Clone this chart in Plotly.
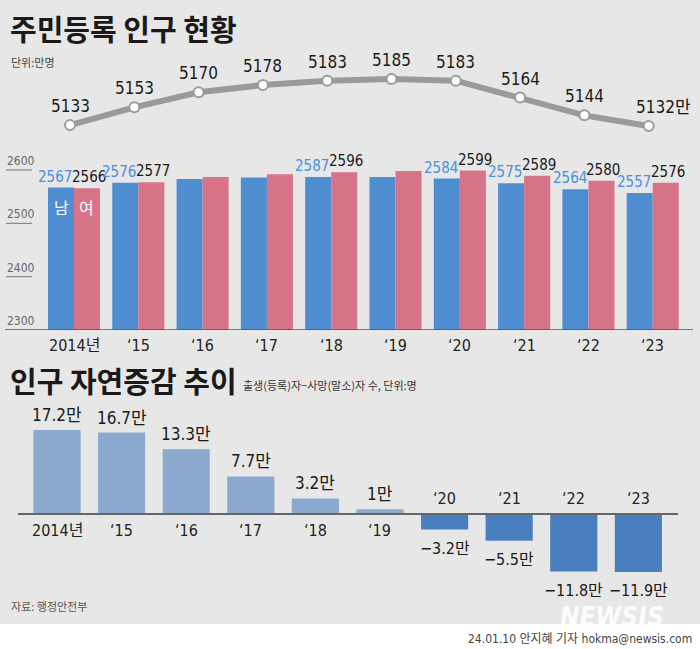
import plotly.graph_objects as go

W, H = 700, 649

# ---------------- data ----------------
years_top_ticks = ["2014년", "‘15", "‘16", "‘17", "‘18", "‘19", "‘20", "‘21", "‘22", "‘23"]
total_pop = [5133, 5153, 5170, 5178, 5183, 5185, 5183, 5164, 5144, 5132]
male_pop = [2567, 2576, 2583, 2586, 2587, 2587, 2584, 2575, 2564, 2557]
female_pop = [2566, 2577, 2587, 2592, 2596, 2598, 2599, 2589, 2580, 2576]
bar_labeled = [True, True, False, False, True, False, True, True, True, True]
y_ticks = [2600, 2500, 2400, 2300]

natural_change = [17.2, 16.7, 13.3, 7.7, 3.2, 1.0, -3.2, -5.5, -11.8, -11.9]
natural_text = ["17.2만", "16.7만", "13.3만", "7.7만", "3.2만", "1만",
                "−3.2만", "−5.5만", "−11.8만", "−11.9만"]

idx = list(range(len(total_pop)))

# ---------------- styles ----------------
BG = "#e7e7e7"
BLUE = "#4f8fd1"
PINK = "#d87488"
BLUE_TXT = "#4a8fdc"
POS = "#8ca9d0"
NEG = "#4a7fbf"
NUM_FONT = "DejaVu Sans Condensed, Noto Sans CJK KR, sans-serif"
KR_FONT = "Noto Sans CJK KR, sans-serif"


def px_x(p):
    return p / W


def px_y(p):
    return 1 - p / H


fig = go.Figure()

# line chart (total)
fig.add_trace(go.Scatter(
    x=idx, y=total_pop, mode="lines+markers", xaxis="x", yaxis="y",
    line=dict(color="#9a9a9a", width=6),
    marker=dict(size=10, color="white", line=dict(color="#9a9a9a", width=2)),
    hoverinfo="skip", showlegend=False, cliponaxis=False))

# grouped bars male / female
fig.add_trace(go.Bar(x=idx, y=male_pop, xaxis="x2", yaxis="y2", marker=dict(color=BLUE, line=dict(width=0)),
                     showlegend=False, hoverinfo="skip"))
fig.add_trace(go.Bar(x=idx, y=female_pop, xaxis="x2", yaxis="y2", marker=dict(color=PINK, line=dict(width=0)),
                     showlegend=False, hoverinfo="skip"))

# natural change bars
fig.add_trace(go.Bar(x=idx, y=natural_change, xaxis="x3", yaxis="y3", width=0.73,
                     marker=dict(color=[POS if v >= 0 else NEG for v in natural_change], line=dict(width=0)),
                     showlegend=False, hoverinfo="skip"))

ann = []
# line labels
for i, v in zip(idx, total_pop):
    last = i == idx[-1]
    ann.append(dict(x=i, y=v, xref="x", yref="y", text=f"{v}만" if last else f"{v}",
                    showarrow=False, yanchor="bottom", xanchor="left" if last else "center",
                    xshift=-15 if last else 0, yshift=7,
                    font=dict(family=NUM_FONT, size=17, color="#1a1a1a")))

# bar value labels
for i in idx:
    if not bar_labeled[i]:
        continue
    ann.append(dict(x=i - 0.2, y=male_pop[i], xref="x2", yref="y2", text=str(male_pop[i]),
                    showarrow=False, yanchor="bottom", xanchor="center", xshift=-6, yshift=0,
                    font=dict(family=NUM_FONT, size=15, color=BLUE_TXT)))
    ann.append(dict(x=i + 0.2, y=female_pop[i], xref="x2", yref="y2", text=str(female_pop[i]),
                    showarrow=False, yanchor="bottom", xanchor="center", xshift=2, yshift=0,
                    font=dict(family=NUM_FONT, size=15, color="#1a1a1a")))

# 남 / 여 inside first bars
ann.append(dict(x=idx[0] - 0.2, y=male_pop[0], xref="x2", yref="y2", text="남", showarrow=False,
                yanchor="top", yshift=-5, font=dict(family=KR_FONT, size=16, color="white")))
ann.append(dict(x=idx[0] + 0.2, y=female_pop[0], xref="x2", yref="y2", text="여", showarrow=False,
                yanchor="top", yshift=-5, font=dict(family=KR_FONT, size=16, color="white")))

# top category labels
for i, t in zip(idx, years_top_ticks):
    ann.append(dict(x=i, y=y_ticks[-1], xref="x2", yref="y2", text=t, showarrow=False,
                    yanchor="top", yshift=-4, font=dict(family=NUM_FONT, size=16, color="#222")))

# y tick labels top chart
for t in y_ticks:
    ann.append(dict(x=px_x(5), y=t, xref="paper", yref="y2", text=str(t), showarrow=False,
                    xanchor="left", yanchor="bottom", yshift=0,
                    font=dict(family=NUM_FONT, size=12, color="#666")))

# natural change labels
for i, v, t, yl in zip(idx, natural_change, natural_text, years_top_ticks):
    if v >= 0:
        ann.append(dict(x=i, y=v, xref="x3", yref="y3", text=t, showarrow=False,
                        yanchor="bottom", yshift=3,
                        font=dict(family=NUM_FONT, size=17, color="#1a1a1a")))
        ann.append(dict(x=i, y=0, xref="x3", yref="y3", text=yl, showarrow=False,
                        yanchor="top", yshift=-5,
                        font=dict(family=NUM_FONT, size=16, color="#222")))
    else:
        ann.append(dict(x=i, y=v, xref="x3", yref="y3", text=t, showarrow=False,
                        yanchor="top", yshift=-7,
                        font=dict(family=NUM_FONT, size=16, color="#1a1a1a")))
        ann.append(dict(x=i, y=0, xref="x3", yref="y3", text=yl, showarrow=False,
                        yanchor="bottom", yshift=4,
                        font=dict(family=NUM_FONT, size=16, color="#222")))

# titles & notes
ann += [
    dict(x=px_x(8), y=px_y(28), xref="paper", yref="paper", text="<b>주민등록 인구 현황</b>",
         showarrow=False, xanchor="left", yanchor="middle",
         font=dict(family=KR_FONT, size=29, color="#1a1a1a")),
    dict(x=px_x(9), y=px_y(62), xref="paper", yref="paper", text="단위:만명",
         showarrow=False, xanchor="left", yanchor="middle",
         font=dict(family=KR_FONT, size=11, color="#444")),
    dict(x=px_x(8), y=px_y(380), xref="paper", yref="paper", text="<b>인구 자연증감 추이</b>",
         showarrow=False, xanchor="left", yanchor="middle",
         font=dict(family=KR_FONT, size=29, color="#1a1a1a")),
    dict(x=px_x(241), y=px_y(385), xref="paper", yref="paper",
         text="출생(등록)자−사망(말소)자 수, 단위:명",
         showarrow=False, xanchor="left", yanchor="middle",
         font=dict(family=KR_FONT, size=11, color="#333")),
    dict(x=px_x(9), y=px_y(606), xref="paper", yref="paper", text="자료: 행정안전부",
         showarrow=False, xanchor="left", yanchor="middle",
         font=dict(family=KR_FONT, size=11, color="#555")),
    dict(x=px_x(612), y=px_y(617), xref="paper", yref="paper", text="<b><i>NEWSIS</i></b>",
         showarrow=False, xanchor="center", yanchor="middle",
         font=dict(family=NUM_FONT, size=26, color="rgba(255,255,255,0.9)")),
    dict(x=px_x(694), y=px_y(639), xref="paper", yref="paper",
         text="24.01.10 안지혜 기자 hokma@newsis.com",
         showarrow=False, xanchor="right", yanchor="middle",
         font=dict(family=NUM_FONT, size=12, color="#444")),
]

shapes = [
    dict(type="rect", xref="paper", yref="paper", x0=0, x1=1, y0=px_y(624), y1=1,
         fillcolor=BG, line=dict(width=0), layer="below"),
    dict(type="line", xref="paper", yref="y2", x0=px_x(5), x1=px_x(693), y0=y_ticks[-1], y1=y_ticks[-1],
         line=dict(color="#555", width=1.5)),
    dict(type="line", xref="paper", yref="y3", x0=px_x(18), x1=px_x(678), y0=0, y1=0,
         line=dict(color="#666", width=2)),
]
for t in y_ticks[:-1]:
    shapes.append(dict(type="line", xref="paper", yref="y2", x0=px_x(6), x1=px_x(32), y0=t, y1=t,
                       line=dict(color="#777", width=1)))

hidden = dict(visible=False, fixedrange=True)

fig.update_layout(
    width=W, height=H, autosize=False,
    margin=dict(l=0, r=0, t=0, b=0),
    paper_bgcolor="white", plot_bgcolor="rgba(0,0,0,0)",
    barmode="group", bargap=0.19, bargroupgap=0,
    showlegend=False,
    xaxis=dict(domain=[0.0541, 0.9726], range=[-0.5, 9.5], anchor="y", **hidden),
    yaxis=dict(domain=[0.762, 0.899], range=[5100, 5200], anchor="x", **hidden),
    xaxis2=dict(domain=[0.0598, 0.9784], range=[-0.5, 9.5], anchor="y2", **hidden),
    yaxis2=dict(domain=[0.4915, 0.7545], range=[2300, 2620], anchor="x2", **hidden),
    xaxis3=dict(domain=[0.0353, 0.9581], range=[-0.5, 9.5], anchor="y3", **hidden),
    yaxis3=dict(domain=[0.1103, 0.3508], range=[-13, 19], anchor="x3", **hidden),
    annotations=ann,
    shapes=shapes,
)

fig.write_html("out.html", config={"displayModeBar": False},
               post_script="document.body.style.margin='0';document.body.style.overflow='hidden';")
